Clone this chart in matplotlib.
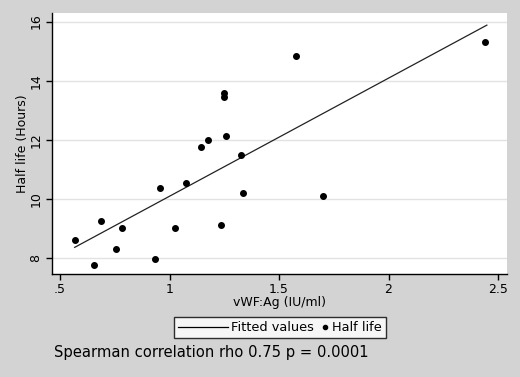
import matplotlib
matplotlib.use("Agg")
import matplotlib.pyplot as plt
from matplotlib.lines import Line2D
from matplotlib.legend_handler import HandlerLine2D

# values
vwf_ag = [0.567, 0.657, 0.687, 0.755, 0.785, 0.934, 0.957, 1.027, 1.077, 1.145,
          1.177, 1.235, 1.247, 1.247, 1.257, 1.326, 1.337, 1.578, 1.699, 2.441]
half_life = [8.62, 7.77, 9.26, 8.31, 9.01, 7.97, 10.39, 9.03, 10.53, 11.77,
             12.00, 9.11, 13.57, 13.46, 12.13, 11.48, 10.22, 14.83, 10.10, 15.31]

# fitted values (line ends, as drawn)
fit_x = [0.567, 2.449]
fit_y = [8.37, 15.88]

x_ticks = [0.5, 1, 1.5, 2, 2.5]
x_tick_labels = ['.5', '1', '1.5', '2', '2.5']
y_ticks = [8, 10, 12, 14, 16]

BG = '#d3d3d3'


class MarkerAtRight(HandlerLine2D):
    # put the dot at the right end of the handle box, next to its label
    def get_xdata(self, legend, xdescent, ydescent, width, height, fontsize):
        xm = -xdescent + width - 0.3 * fontsize
        return [xm, xm], [xm]


fig = plt.figure(figsize=(5.2, 3.77), dpi=100, facecolor=BG)
ax = fig.add_axes([0.1, 0.2732, 0.875, 0.6923])
ax.set_facecolor('white')

for yt in y_ticks:
    ax.axhline(yt, color='#e2e2e2', linewidth=1.0, zorder=0)

ax.plot(fit_x, fit_y, color='#222222', linewidth=0.9, zorder=2)
ax.plot(vwf_ag, half_life, linestyle='none', marker='o', markersize=4,
        color='black', zorder=3)

ax.set_xlim(0.4635, 2.541)
ax.set_ylim(7.47, 16.29)
ax.set_xticks(x_ticks)
ax.set_xticklabels(x_tick_labels)
ax.set_yticks(y_ticks)
ax.set_yticklabels([str(v) for v in y_ticks], rotation=90, va='center')

for s in ['top', 'right']:
    ax.spines[s].set_visible(False)
for s in ['left', 'bottom']:
    ax.spines[s].set_color('black')
    ax.spines[s].set_linewidth(1.0)

ax.tick_params(axis='both', direction='out', length=4, width=1, labelsize=9,
               colors='black', pad=2.5)
ax.tick_params(axis='y', pad=3)

ax.set_xlabel('vWF:Ag (IU/ml)', fontsize=9, labelpad=0)
ax.set_ylabel('Half life (Hours)', fontsize=9, labelpad=0.5)

line_h = Line2D([], [], color='black', linewidth=0.9)
dot_h = Line2D([], [], linestyle='none', marker='o', markersize=3, color='black')
leg = fig.legend([line_h, dot_h], ['Fitted values', 'Half life'], loc='center',
                 bbox_to_anchor=(0.538, 0.131), ncol=2, fontsize=9.3,
                 frameon=True, fancybox=False, handlelength=3.9,
                 handletextpad=0.25, columnspacing=-2.75, borderpad=0.3,
                 borderaxespad=0, handler_map={dot_h: MarkerAtRight()})
leg.get_frame().set_edgecolor('black')
leg.get_frame().set_linewidth(1.0)
leg.get_frame().set_facecolor('white')

fig.text(0.104, 0.064, 'Spearman correlation rho 0.75 p = 0.0001', fontsize=10.6,
         va='center', ha='left')

fig.savefig('out.png', dpi=100, facecolor=BG)
